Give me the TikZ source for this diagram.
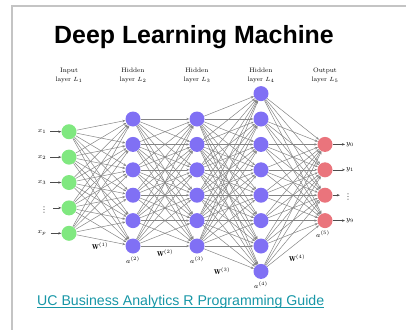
\documentclass[tikz,border=0pt]{standalone}
\usepackage{fontspec}
\newfontfamily\arialfont{Liberation Sans}
\newfontfamily\dejafont{DejaVu Sans}
\usetikzlibrary{arrows.meta}
\definecolor{inputc}{RGB}{128,232,128}
\definecolor{hiddenc}{RGB}{128,112,244}
\definecolor{outputc}{RGB}{234,116,124}
\definecolor{linkc}{RGB}{22,150,166}
\definecolor{framec}{RGB}{196,196,196}
\definecolor{edgec}{RGB}{132,132,132}
\tikzset{
  neuron/.style={circle, minimum size=15bp, inner sep=0},
  edge/.style={edgec, line width=0.5bp, -{Stealth[length=3bp,width=2.4bp]}},
  feed/.style={black!70, line width=0.5bp, -{Stealth[length=3bp,width=2.4bp]}},
  tag/.style={inner sep=1bp, font=\fontsize{7}{8}\selectfont},
  dots/.style={inner sep=0, text=black!75, font=\dejafont\fontsize{8}{9}\selectfont},
  layertag/.style={align=center, font=\fontsize{6.5}{9}\selectfont}
}
\newcommand{\ypos}[2]{182.5+25.4*(#1-(#2+1)/2)}
\newcommand{\couche}[3]{
  \foreach \n in {1, ..., #2}
  \node[neuron, fill=#3] (#1\n) at ({5+64*#1}, {\ypos{\n}{#2}}) {};
}
\newcommand{\poids}[4]{
  \foreach \i in {1, ..., #2}
  \foreach \j in {1, ..., #4}
  \draw[edge] (#1\i)--(#3\j);
}
\begin{document}
\begin{tikzpicture}[x=1bp, y=-1bp]
  \useasboundingbox (0,0) rectangle (406,330);

  % Frame
  % -----
  \coordinate (ftr) at (406,6);
  \coordinate (ftl) at (12,6);
  \coordinate (fbl) at (12,330);
  \draw[framec, line width=1.1bp] (ftr)--(ftl)--(fbl);

  \node (title) at (194,37) {\arialfont\bfseries\fontsize{25}{29}\selectfont Deep Learning Machine};

  % Neurons (names only)
  % --------------------
  \couche{1}{5}{none}
  \couche{2}{6}{none}
  \couche{3}{6}{none}
  \couche{4}{8}{none}
  \couche{5}{4}{none}

  % Weights
  % -------
  \poids{1}{5}{2}{6}
  \poids{2}{6}{3}{6}
  \poids{3}{6}{4}{8}
  \poids{4}{8}{5}{4}

  % Neurons
  % -------
  \couche{1}{5}{inputc}
  \couche{2}{6}{hiddenc}
  \couche{3}{6}{hiddenc}
  \couche{4}{8}{hiddenc}
  \couche{5}{4}{outputc}

  % Layer names
  % -----------
  \node[layertag] (lab1) at (69,75.5) {Input\\layer $L_1$};
  \node[layertag] (lab2) at (133,75.5) {Hidden\\layer $L_2$};
  \node[layertag] (lab3) at (197,75.5) {Hidden\\layer $L_3$};
  \node[layertag] (lab4) at (261,75.5) {Hidden\\layer $L_4$};
  \node[layertag] (lab5) at (325,75.5) {Output\\layer $L_5$};

  % Inputs
  % ------
  \foreach \n/\t in {1/x_1, 2/x_2, 3/x_3, 5/x_p}{
    \node[tag] (x\n) at (42,{\ypos{\n}{5}}) {$\t$};
    \draw[feed, shorten <=3bp] (x\n)--(1\n);
  }
  \node[dots] (x4) at (44,{\ypos{4}{5}+2}) {⋮};
  \draw[feed, shorten <=5bp] (x4.east|-14)--(14);

  % Outputs
  % -------
  \foreach \n/\t in {1/y_0, 2/y_1, 4/y_9}{
    \node[tag, anchor=west] (y\n) at (345,{\ypos{\n}{4}}) {$\t$};
    \draw[feed] (5\n)--(y\n);
  }
  \node[dots] (y3) at (348,{\ypos{3}{4}+2}) {⋮};
  \draw[feed, shorten >=4bp] (53)--(y3.west|-53);

  % Weights and activations
  % -----------------------
  \node[tag] (w1) at (100,246.5) {$\mathbf{W}^{(1)}$};
  \node[tag] (w2) at (165,253) {$\mathbf{W}^{(2)}$};
  \node[tag] (w3) at (222,271.5) {$\mathbf{W}^{(3)}$};
  \node[tag] (w4) at (297,258) {$\mathbf{W}^{(4)}$};
  \node[tag] (a2) at (133,260) {$a^{(2)}$};
  \node[tag] (a3) at (197,260) {$a^{(3)}$};
  \node[tag] (a4) at (261,285) {$a^{(4)}$};
  \node[tag] (a5) at (323,234) {$a^{(5)}$};

  % Link
  % ----
  \node[inner sep=0, anchor=base west, text=linkc] (guide) at (37,305.5)
    {\arialfont\fontsize{14.2}{16}\selectfont UC Business Analytics R Programming Guide};
  \draw[linkc, line width=0.9bp] ([yshift=-2.2bp]guide.base west)--([yshift=-2.2bp]guide.base east);

\end{tikzpicture}
\end{document}
